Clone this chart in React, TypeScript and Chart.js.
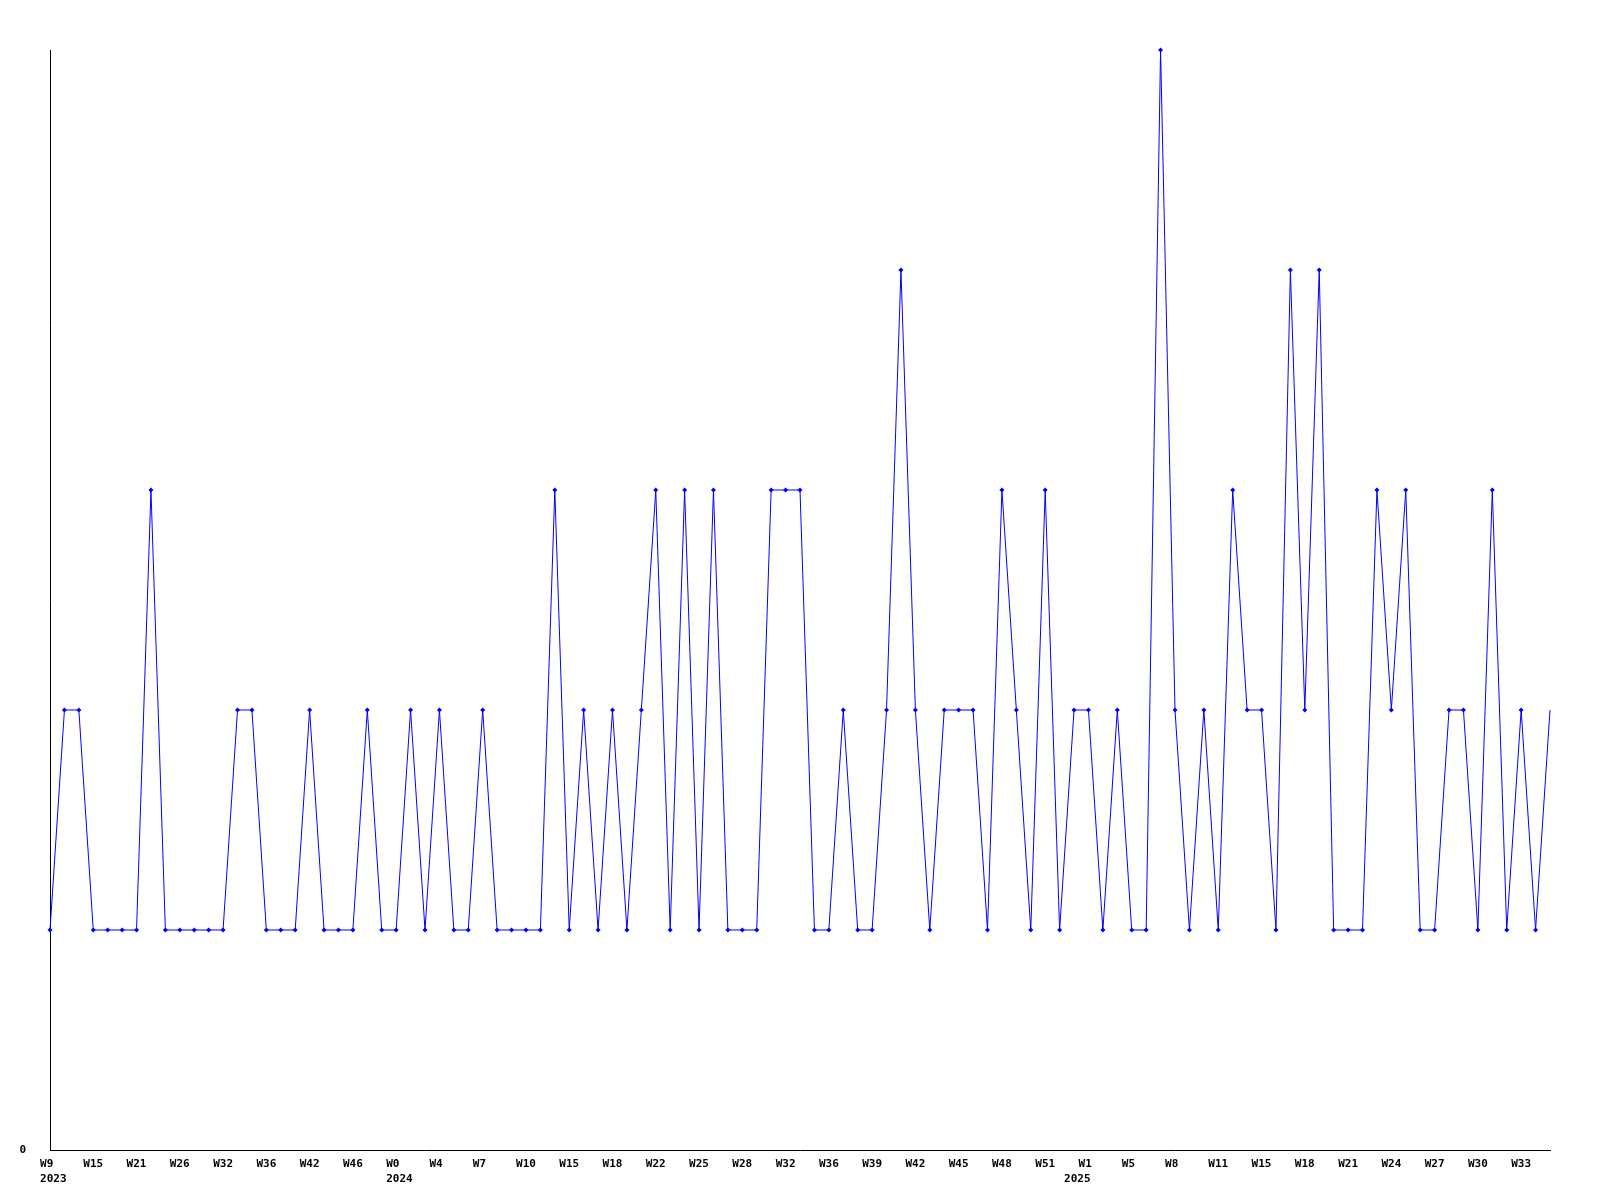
import React, { useEffect, useRef } from 'react';
import { Chart, registerables } from 'chart.js';

Chart.register(...registerables);

// Week numbers with data, per year (one point per listed week)
const weeks2023 = [9, 11, 13, 15, 17, 19, 21, 22, 24, 26, 28, 30, 32, 33, 35, 36, 38, 40, 42, 43, 45, 46, 48, 50];
const weeks2024 = [0, 1, 3, 4, 5, 6, 7, 8, 9, 10, 12, 13, 15, 16, 17, 18, 20, 21, 22, 23, 24, 25, 26, 27, 28, 30, 31, 32, 34, 35, 36, 37, 38, 39, 40, 41, 42, 43, 44, 45, 46, 47, 48, 49, 50, 51, 52];
const weeks2025 = [0, 1, 2, 3, 5, 6, 7, 8, 9, 10, 11, 12, 13, 15, 16, 17, 18, 19, 20, 21, 22, 23, 24, 25, 26, 27, 28, 29, 30, 31, 32, 33, 34, 35];

const categories: string[] = [
  ...weeks2023.map((w) => `2023-W${w}`),
  ...weeks2024.map((w) => `2024-W${w}`),
  ...weeks2025.map((w) => `2025-W${w}`),
];

const values = [
  1, 2, 2, 1, 1, 1, 1, 3, 1, 1,
  1, 1, 1, 2, 2, 1, 1, 1, 2, 1,
  1, 1, 2, 1, 1, 2, 1, 2, 1, 1,
  2, 1, 1, 1, 1, 3, 1, 2, 1, 2,
  1, 2, 3, 1, 3, 1, 3, 1, 1, 1,
  3, 3, 3, 1, 1, 2, 1, 1, 2, 4,
  2, 1, 2, 2, 2, 1, 3, 2, 1, 3,
  1, 2, 2, 1, 2, 1, 1, 5, 2, 1,
  2, 1, 3, 2, 2, 1, 4, 2, 4, 1,
  1, 1, 3, 2, 3, 1, 1, 2, 2, 1,
  3, 1, 2, 1, 2,
];

const yTickLabels = ['0'];
const labelEvery = 3;

const FONT = { family: '"DejaVu Sans Mono", "Liberation Mono", monospace', size: 11, weight: 'bold' as const, lineHeight: '15px' };

export default function App() {
  const ref = useRef<HTMLCanvasElement | null>(null);

  useEffect(() => {
    if (!ref.current) return;
    const chart = new Chart(ref.current, {
      type: 'line',
      data: {
        labels: categories,
        datasets: [
          {
            data: values,
            borderColor: '#0000ff',
            backgroundColor: '#0000ff',
            borderWidth: 1,
            pointStyle: 'rectRot',
            pointRadius: (ctx: any) => (ctx.dataIndex === values.length - 1 ? 0 : 2.5),
            pointBorderWidth: 0,
            pointBackgroundColor: '#0000ff',
            tension: 0,
            fill: false,
            clip: false as any,
          },
        ],
      },
      options: {
        responsive: false,
        animation: false,
        maintainAspectRatio: false,
        layout: { padding: { top: 50, right: 50, left: 0, bottom: 0 } },
        plugins: {
          legend: { display: false },
          tooltip: { enabled: false },
          title: { display: false },
        },
        scales: {
          x: {
            type: 'category',
            offset: false,
            grid: { display: true, drawOnChartArea: false, drawTicks: false },
            border: { display: true, color: '#000000', width: 1 },
            ticks: {
              autoSkip: false,
              maxRotation: 0,
              minRotation: 0,
              padding: 7,
              color: '#000000',
              font: FONT,
              callback: (_v: any, index: number) => {
                const [year, week] = categories[index].split('-W');
                const prevYear = index > 0 ? categories[index - 1].split('-W')[0] : '';
                const weekLine = index % labelEvery === 0 ? `W${week}`.padEnd(3) : '';
                const yearLine = year !== prevYear ? ' ' + year : '';
                if (!weekLine && !yearLine) return '';
                return yearLine ? [weekLine, yearLine] : weekLine;
              },
            },
            afterFit: (scale: any) => {
              scale.height = 50;
            },
          },
          y: {
            min: 0,
            max: 5,
            grid: { display: true, drawOnChartArea: false, drawTicks: false },
            border: { display: true, color: '#000000', width: 1 },
            ticks: {
              stepSize: 1,
              padding: 24,
              color: '#000000',
              font: FONT,
              callback: (v: any) => (yTickLabels.includes(String(v)) ? String(v) : ''),
            },
            afterFit: (scale: any) => {
              scale.width = 50;
            },
          },
        },
      },
    });
    return () => chart.destroy();
  }, []);

  return (
    <div style={{ position: 'absolute', left: 0, top: 0, width: 1600, height: 1200, background: '#ffffff' }}>
      <canvas ref={ref} width={1600} height={1200} style={{ display: 'block' }} />
    </div>
  );
}
